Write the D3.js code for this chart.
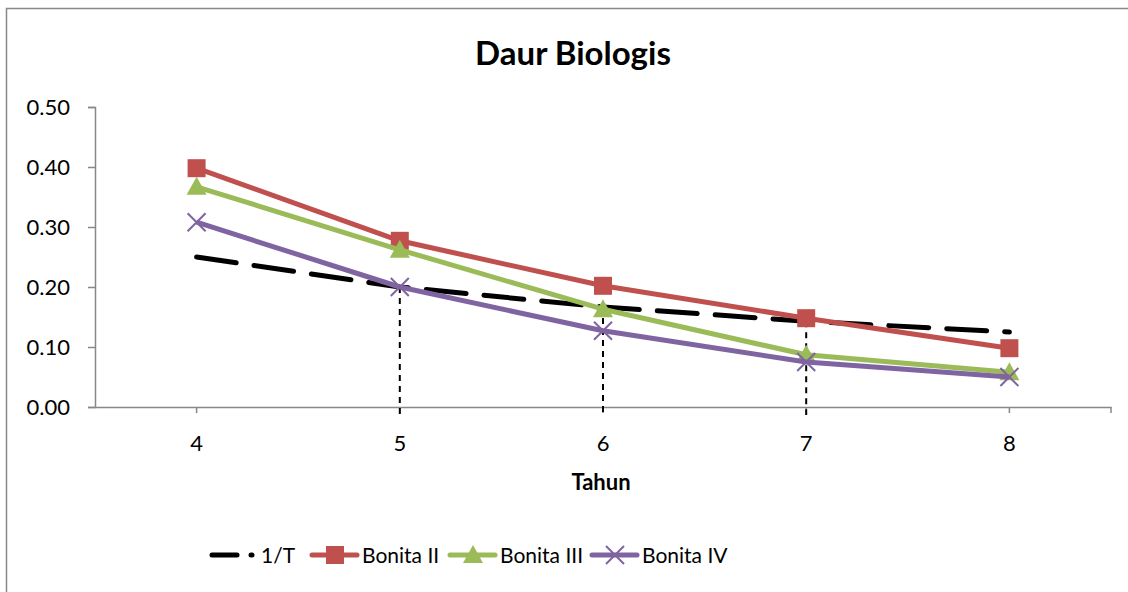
<!DOCTYPE html>
<html>
<head>
<meta charset="utf-8">
<script src="https://cdn.jsdelivr.net/npm/d3@7"></script>
<style>
  body { margin: 0; background: #fff; }
  svg text { font-family: Lato, "Open Sans", sans-serif; fill: #000; }
</style>
</head>
<body>
<div id="chart"></div>
<script>
// data
var years = ["4", "5", "6", "7", "8"];
var inverseT = [0.25, 0.2, 0.1667, 0.1429, 0.125];
var bonitaII = [0.398, 0.277, 0.202, 0.148, 0.098];
var bonitaIII = [0.367, 0.262, 0.163, 0.087, 0.058];
var bonitaIV = [0.308, 0.200, 0.127, 0.075, 0.050];
var yTicks = [0, 0.1, 0.2, 0.3, 0.4, 0.5];
var dropYears = ["5", "6", "7"]; // vertical dashed guides

var series = [
    { name: "1/T", values: inverseT, color: "#000", dash: "40,18", marker: null },
    { name: "Bonita II", values: bonitaII, color: "#C0504D", dash: null, marker: "square" },
    { name: "Bonita III", values: bonitaIII, color: "#9BBB59", dash: null, marker: "triangle" },
    { name: "Bonita IV", values: bonitaIV, color: "#8064A2", dash: null, marker: "cross" }
];

var W = 1128, H = 592;
var svg = d3.select("#chart").append("svg")
    .attr("width", W).attr("height", H);

// chart border (only top/left visible in the crop)
svg.append("rect")
    .attr("x", 6.5).attr("y", 8.5)
    .attr("width", W + 10).attr("height", H + 10)
    .attr("fill", "none").attr("stroke", "#888").attr("stroke-width", 1.5);

var plotLeft = 95, plotRight = 1111, plotTop = 107, plotBottom = 407;

var x = d3.scaleBand().domain(years).range([plotLeft, plotRight]);
var xc = function(d) { return x(d) + x.bandwidth() / 2; };
var y = d3.scaleLinear().domain([0, 0.5]).range([plotBottom, plotTop]);

// title
svg.append("text")
    .attr("x", 573).attr("y", 65)
    .attr("text-anchor", "middle")
    .style("font-weight", "bold").style("font-size", "33px")
    .text("Daur Biologis");

// y axis
var yAxis = svg.append("g")
    .attr("transform", "translate(" + plotLeft + ",0)")
    .call(d3.axisLeft(y).tickValues(yTicks).tickFormat(d3.format(".2f")).tickSize(7).tickPadding(18));
yAxis.select(".domain").attr("stroke", "#888").attr("stroke-width", 1.5);
yAxis.selectAll(".tick line").attr("stroke", "#888").attr("stroke-width", 1.5);
yAxis.selectAll(".tick text").style("font-size", "22px").attr("fill", "#000");

// x axis: ticks under each category
var xAxis = svg.append("g")
    .attr("transform", "translate(0," + plotBottom + ")")
    .call(d3.axisBottom(x).tickSize(6).tickSizeOuter(0).tickPadding(22));
xAxis.select(".domain").attr("stroke", "#888").attr("stroke-width", 1.5);
xAxis.selectAll(".tick line").attr("stroke", "#888").attr("stroke-width", 1.5);
xAxis.selectAll(".tick text").style("font-size", "22px").attr("fill", "#000");
xAxis.append("line")
    .attr("x1", plotRight).attr("x2", plotRight).attr("y1", 0).attr("y2", 6)
    .attr("stroke", "#888").attr("stroke-width", 1.5);

svg.append("text")
    .attr("x", 601).attr("y", 490)
    .attr("text-anchor", "middle")
    .style("font-weight", "bold").style("font-size", "22px")
    .text("Tahun");

// drop lines from the 1/T curve
svg.selectAll(".drop")
    .data(dropYears)
    .enter()
    .append("line")
    .attr("class", "drop")
    .attr("x1", xc).attr("x2", xc)
    .attr("y1", function(d) { return y(inverseT[years.indexOf(d)]); })
    .attr("y2", plotBottom + 8)
    .attr("stroke", "#000").attr("stroke-width", 2)
    .attr("stroke-dasharray", "6,5");

var line = d3.line()
    .x(function(d, i) { return xc(years[i]); })
    .y(function(d) { return y(d); });

function drawMarker(g, type, color, cx, cy) {
    if (type === "square") {
        g.append("rect").attr("x", cx - 9).attr("y", cy - 9)
            .attr("width", 18).attr("height", 18).attr("fill", color);
    } else if (type === "triangle") {
        g.append("path")
            .attr("d", "M" + cx + "," + (cy - 10) + "L" + (cx + 10) + "," + (cy + 8) + "L" + (cx - 10) + "," + (cy + 8) + "Z")
            .attr("fill", color);
    } else if (type === "cross") {
        g.append("path")
            .attr("d", "M" + (cx - 9) + "," + (cy - 9) + "L" + (cx + 9) + "," + (cy + 9) +
                       "M" + (cx + 9) + "," + (cy - 9) + "L" + (cx - 9) + "," + (cy + 9))
            .attr("stroke", color).attr("stroke-width", 2).attr("fill", "none");
    }
}

// series lines + markers (1/T first, the others on top)
series.forEach(function(s) {
    var g = svg.append("g");
    g.append("path")
        .datum(s.values)
        .attr("d", line)
        .attr("fill", "none")
        .attr("stroke", s.color)
        .attr("stroke-width", 5)
        .attr("stroke-linecap", s.marker ? "butt" : "round")
        .attr("stroke-linejoin", "round")
        .attr("stroke-dasharray", s.dash);
    if (s.marker) {
        s.values.forEach(function(v, i) {
            drawMarker(g, s.marker, s.color, xc(years[i]), y(v));
        });
    }
});

// legend
var legendX = [210, 310, 448, 590];
var legendY = 555;
series.forEach(function(s, i) {
    var g = svg.append("g");
    var lx = legendX[i];
    if (s.marker) {
        g.append("line")
            .attr("x1", lx + 2).attr("x2", lx + 47).attr("y1", legendY).attr("y2", legendY)
            .attr("stroke", s.color).attr("stroke-width", 5).attr("stroke-linecap", "round");
        drawMarker(g, s.marker, s.color, lx + 25, legendY);
    } else {
        g.append("line")
            .attr("x1", lx + 2).attr("x2", lx + 27).attr("y1", legendY).attr("y2", legendY)
            .attr("stroke", s.color).attr("stroke-width", 5).attr("stroke-linecap", "round");
        g.append("line")
            .attr("x1", lx + 41).attr("x2", lx + 42).attr("y1", legendY).attr("y2", legendY)
            .attr("stroke", s.color).attr("stroke-width", 5).attr("stroke-linecap", "round");
    }
    g.append("text")
        .attr("x", lx + (s.marker ? 52 : 51)).attr("y", legendY + 8)
        .style("font-size", "21px")
        .text(s.name);
});
</script>
</body>
</html>
